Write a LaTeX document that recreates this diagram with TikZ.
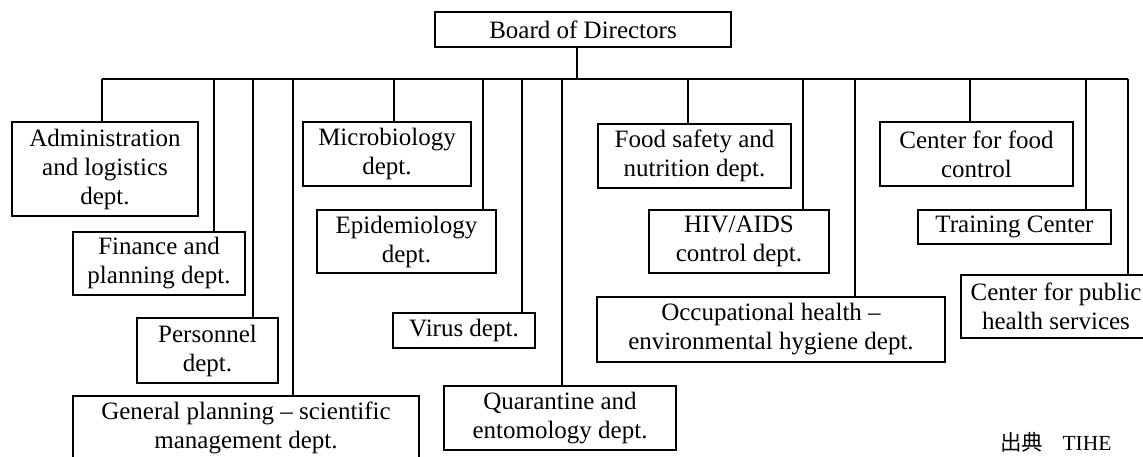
\documentclass[tikz,border=0pt]{standalone}
\usepackage{fontspec}
\setmainfont{Liberation Serif}
\newfontfamily\cjkfont{Noto Sans CJK JP}
\usetikzlibrary{calc}
\tikzset{
  deptbox/.style={draw, line width=1.2pt, inner sep=0pt, align=center,
    font=\fontsize{25}{29}\selectfont},
  link/.style={line width=1.2pt},
  sourcenote/.style={font=\fontsize{21.5}{24}\selectfont, anchor=base west, inner sep=0pt}
}
\def\BusY{79}
\newcommand{\Dept}[6]{%
  % #1 name, #2 x-centre, #3 y-centre, #4 width, #5 height, #6 text
  \node[deptbox, minimum width=#4, minimum height=#5] (#1) at (#2,#3) {#6};
}
\newcommand{\Drop}[2]{%
  % #1 x on the bus, #2 box name
  \coordinate (bus-#2) at (#1,\BusY);
  \draw[link] (bus-#2) -- (bus-#2 |- #2.north);
}
\begin{document}
\begin{tikzpicture}[x=1pt, y=-1pt]
  \useasboundingbox (0,0) rectangle (1143,457);
  \clip (0,0) rectangle (1143,457);

  % =======================
  % Top
  % =======================
  \Dept{board}{583}{29.5}{296}{35}{Board of Directors}
  \coordinate (stem) at (577,\BusY);
  \draw[link] (board.south -| stem) -- (stem);

  % =======================
  % Left group
  % =======================
  \Dept{admin}{105}{169}{186}{94}{Administration\\and logistics\\dept.}
  \Dept{finance}{159}{263.5}{172}{63}{Finance and\\planning dept.}
  \Dept{personnel}{207.5}{350.5}{141}{65}{Personnel\\dept.}
  \Dept{general}{246}{428}{346}{64}{General planning – scientific\\management dept.}

  % =======================
  % Middle group
  % =======================
  \Dept{micro}{387}{154}{168}{64}{Microbiology\\dept.}
  \Dept{epi}{406.5}{241.5}{179}{63}{Epidemiology\\dept.}
  \Dept{virus}{464}{330.5}{142}{35}{Virus dept.}
  \Dept{quarantine}{560}{418}{232}{64}{Quarantine and\\entomology dept.}

  % =======================
  % Right group
  % =======================
  \Dept{food}{694.5}{156}{193}{64}{Food safety and\\nutrition dept.}
  \Dept{hiv}{739}{241.5}{180}{63}{HIV/AIDS\\control dept.}
  \Dept{occ}{771}{329.5}{348}{65}{Occupational health –\\environmental hygiene dept.}
  \Dept{foodctl}{976.5}{154}{193}{64}{Center for food\\control}
  \Dept{training}{1014.5}{227}{193}{34}{Training Center}
  \Dept{public}{1056}{306.5}{190}{63}{Center for public\\health services}

  % =======================
  % Bus and drops
  % =======================
  \Drop{102}{admin}
  \Drop{214}{finance}
  \Drop{253}{personnel}
  \Drop{293}{general}
  \Drop{394}{micro}
  \Drop{483}{epi}
  \Drop{522}{virus}
  \Drop{562}{quarantine}
  \Drop{688}{food}
  \Drop{803}{hiv}
  \Drop{855}{occ}
  \Drop{970}{foodctl}
  \Drop{1086}{training}
  \Drop{1128}{public}
  \draw[link] (bus-admin) -- (bus-public);

  % source
  \node[sourcenote] (src) at (1000,450) {{\cjkfont 出典}\hspace{0.9em}TIHE};
\end{tikzpicture}
\end{document}
